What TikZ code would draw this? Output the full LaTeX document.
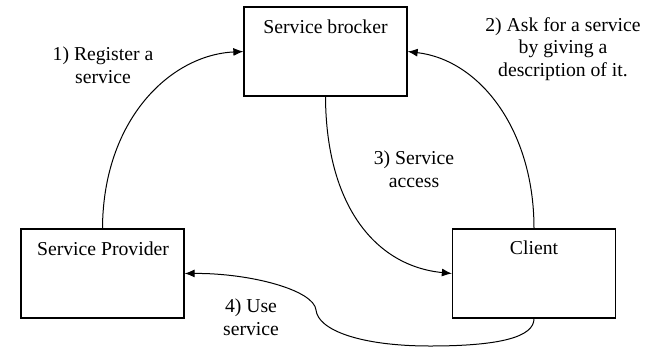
\documentclass[tikz,border=0pt]{standalone}
\usepackage{fontspec}
\setmainfont{Liberation Serif}
\newfontfamily\labelfont{Liberation Serif}
\usetikzlibrary{arrows.meta}
\begin{document}
\begin{tikzpicture}[x=1pt,y=-1pt,
  box/.style={draw,line width=1.3pt,rectangle,minimum width=163pt,minimum height=89pt,inner sep=0pt},
  txt/.style={inner sep=0pt,anchor=base,align=center,font=\labelfont\fontsize{19.7pt}{22.5pt}\selectfont},
  flow/.style={line width=1pt,-{Latex[length=10pt,width=8pt]}}]
  \useasboundingbox (0,0) rectangle (655,348);

  % the three parties
  \node[box] (broker)   at (325.5,51.5)  {};
  \node[box] (provider) at (102.5,273.5) {};
  \node[box] (client)   at (534,273.5)   {};

  \node[txt] (brokertxt)   at (325.5,33) {Service brocker};
  \node[txt] (providertxt) at (103,255)  {Service Provider};
  \node[txt] (clienttxt)   at (534,254)  {Client};

  % interactions
  \draw[flow] (provider.north) .. controls (103,120) and (170,55) .. (broker.west);
  \draw[flow] (client.north) .. controls (534,130) and (480,60) .. (broker.east);
  \draw[flow] (broker.south) .. controls (326,205) and (375,266) .. (client.west);
  \coordinate (lowpt) at (430,346);
  \coordinate (bend) at (316,310);
  \draw[flow] (client.south) .. controls (534,337) and (500,346) .. (lowpt)
    .. controls (360,346) and (318,330) .. (bend)
    .. controls (314,290) and (250,273) .. (provider.east);

  % step labels (anchored at the baseline of their last line)
  \node[txt] (l1) at (103,83)  {1) Register a\\service};
  \node[txt] (l2) at (563,76)  {2) Ask for a service\\by giving a\\description of it.};
  \node[txt] (l3) at (414,187) {3) Service\\access};
  \node[txt] (l4) at (251,335) {4) Use\\service};
\end{tikzpicture}
\end{document}
